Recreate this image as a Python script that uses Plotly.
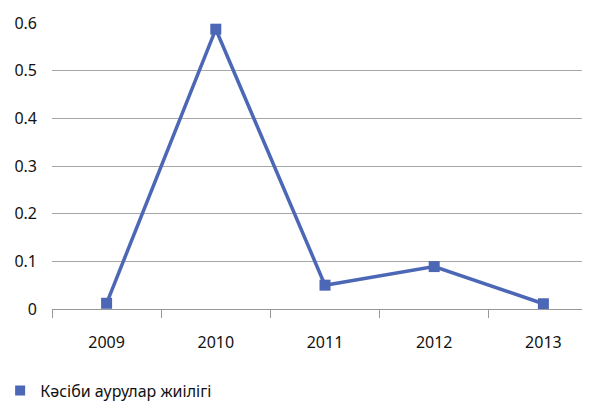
import plotly.graph_objects as go

years = ["2009", "2010", "2011", "2012", "2013"]
values = [0.012, 0.587, 0.05, 0.089, 0.011]
series_name = "Кәсіби аурулар жиілігі"
y_ticks = [0, 0.1, 0.2, 0.3, 0.4, 0.5, 0.6]
y_labels = ["0", "0.1", "0.2", "0.3", "0.4", "0.5", "0.6"]

color = "#4B67B5"
font = "Noto Sans"
text_color = "#111111"

fig = go.Figure()
fig.add_trace(go.Scatter(
    x=years, y=values, name=series_name, mode="lines+markers",
    line=dict(color=color, width=3.5),
    marker=dict(symbol="square", size=11, color=color),
    cliponaxis=False, showlegend=False,
))
# legend entry: square marker only
fig.add_trace(go.Scatter(
    x=[None], y=[None], name=series_name, mode="markers",
    marker=dict(symbol="square", size=10, color=color),
    showlegend=True,
))

fig.update_layout(
    width=590, height=401,
    margin=dict(l=44, r=0, t=15, b=100, autoexpand=False),
    paper_bgcolor="white", plot_bgcolor="white",
    font=dict(family=font, size=16, color=text_color),
    showlegend=True,
    legend=dict(xref="paper", yref="paper",
                x=-0.095, y=-0.285, xanchor="left", yanchor="middle",
                orientation="h", font=dict(size=16, color=text_color),
                itemwidth=30),
    xaxis=dict(
        type="category", range=[-0.5, 4.5],
        tickson="boundaries", ticks="outside", ticklen=8,
        tickcolor="#999999", tickwidth=1,
        showline=True, linecolor="#999999", linewidth=1,
        showgrid=False, fixedrange=True,
        tickfont=dict(size=16), ticklabelstandoff=19,
    ),
    yaxis=dict(
        range=[0, 0.6], tickvals=y_ticks, ticktext=y_labels,
        showgrid=True, gridcolor="#A6A6A6", gridwidth=1,
        zeroline=False, showline=False, ticks="",
        tickfont=dict(size=16), ticklabelstandoff=14,
    ),
)

fig.write_html("out.html")
